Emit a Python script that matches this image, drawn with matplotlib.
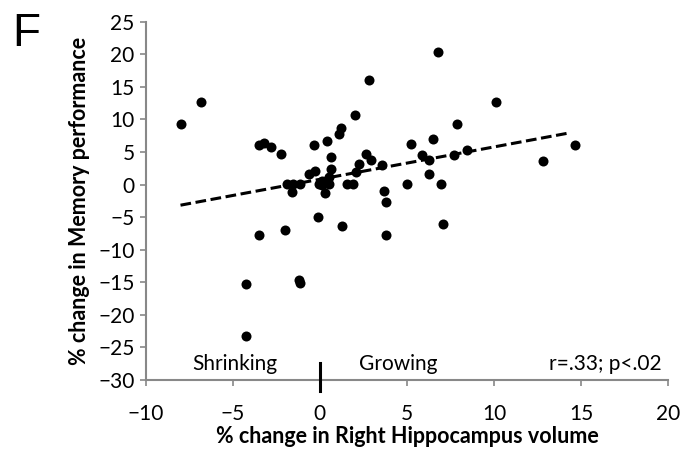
import numpy as np
import matplotlib
matplotlib.use("Agg")
import matplotlib.pyplot as plt

# values
vol_change = [
    -7.95, -6.82, -3.50, -3.18, -2.83, -2.25, -4.26, -4.26, -1.20, -1.15,
    -3.50, -2.01, -0.13, 1.27, 3.79, 7.07, -1.91, -1.53, -1.15, -1.60,
    -0.60, -0.30, 0.65, 0.55, 0.15, -0.05, 0.55, 0.10, -0.32, 0.43,
    0.63, 1.10, 1.20, 2.04, 2.82, 6.80, 10.10, 7.90, 6.50, 5.25,
    2.63, 2.93, 3.56, 2.24, 2.05, 1.55, 1.90, 0.30, 5.88, 6.26,
    7.70, 8.47, 12.79, 14.62, 6.27, 4.98, 6.93, 3.70, 3.80,
]
memory_change = [
    9.3, 12.6, 6.0, 6.4, 5.75, 4.65, -15.3, -23.3, -14.7, -15.1,
    -7.7, -7.0, -5.0, -6.4, -7.7, -6.0, 0.1, 0.1, 0.1, -1.2,
    1.6, 2.1, 2.4, 1.2, 0.6, 0.1, 0.1, -0.1, 6.0, 6.65,
    4.25, 7.7, 8.7, 10.7, 16.1, 20.3, 12.7, 9.3, 7.0, 6.3,
    4.7, 3.75, 3.0, 3.2, 2.0, 0.1, 0.1, -1.35, 4.5, 3.75,
    4.55, 5.38, 3.64, 6.0, 1.69, 0.1, 0.05, -0.95, -2.6,
]

# trend line
fit_slope = 0.497
fit_intercept = 0.81
fit_x = [-8.0, 14.4]

x_ticks = [-10, -5, 0, 5, 10, 15, 20]
y_ticks = [25, 20, 15, 10, 5, 0, -5, -10, -15, -20, -25, -30]

plt.rcParams['font.family'] = ['Lato', 'DejaVu Sans']

fig = plt.figure(figsize=(6.81, 4.63), dpi=100)
ax = fig.add_axes([0.2139, 0.1793, 0.9813 - 0.2139, 0.9531 - 0.1793])

ax.scatter(vol_change, memory_change, s=52, color='black', zorder=3, linewidths=0)

fit_y = [fit_slope * v + fit_intercept for v in fit_x]
ax.plot(fit_x, fit_y, color='black', lw=2.2, linestyle=(0, (3.5, 1.5)), zorder=2)

ax.set_xlim(-10, 20)
ax.set_ylim(-30, 25)
ax.set_xticks(x_ticks)
ax.set_yticks(y_ticks)
ax.tick_params(axis='both', labelsize=15, color='#888888', length=4, width=1.2, direction='out')
ax.tick_params(axis='x', pad=13)
ax.tick_params(axis='y', pad=4)

for side in ['top', 'right']:
    ax.spines[side].set_visible(False)
for side in ['left', 'bottom']:
    ax.spines[side].set_color('#888888')
    ax.spines[side].set_linewidth(1.5)

# marker at zero separating shrinking and growing
ax.plot([0, 0], [-27.4, -31.7], color='black', lw=2.2, clip_on=False, zorder=4)

ax.text(-4.9, -27.6, 'Shrinking', fontsize=15, ha='center', va='center')
ax.text(4.5, -27.6, 'Growing', fontsize=15, ha='center', va='center')
ax.text(19.6, -27.6, 'r=.33; p<.02', fontsize=15, ha='right', va='center')

ax.set_xlabel('% change in Right Hippocampus volume', fontsize=15.5, fontweight='bold', labelpad=2)
ax.set_ylabel('% change in Memory performance', fontsize=15.5, fontweight='bold', labelpad=6)

fig.text(0.018, 0.975, 'F', fontsize=33, ha='left', va='top', family='Liberation Sans')

fig.savefig('out.png', dpi=100)
